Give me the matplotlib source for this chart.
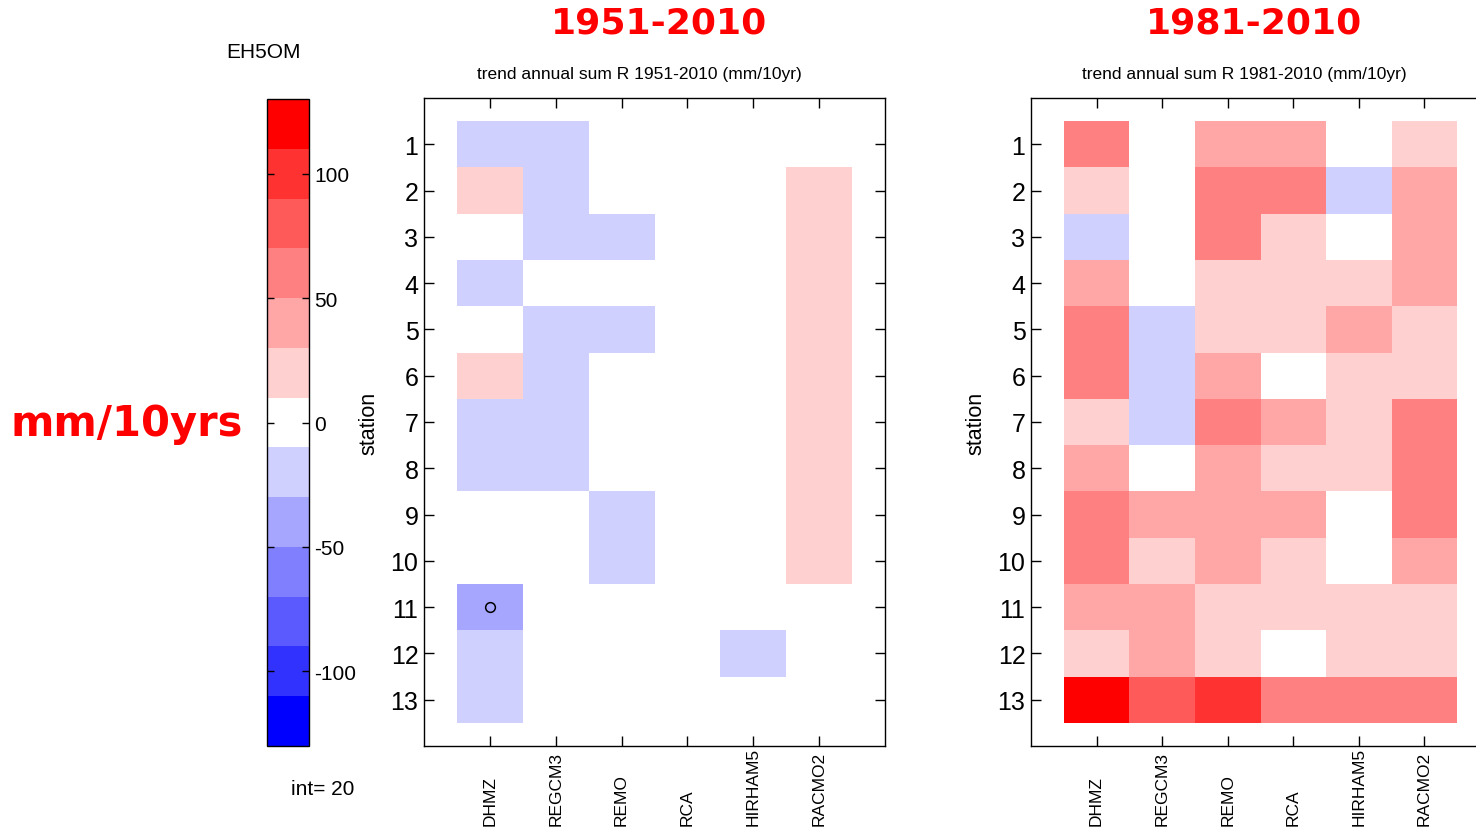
import numpy as np
import matplotlib
matplotlib.use('Agg')
import matplotlib.pyplot as plt
from matplotlib.colors import ListedColormap, BoundaryNorm

plt.rcParams['font.family'] = ['Liberation Sans', 'DejaVu Sans']

models = ['DHMZ', 'REGCM3', 'REMO', 'RCA', 'HIRHAM5', 'RACMO2']
stations = list(range(1, 14))

# trend of annual precipitation sum per station (rows) and model (columns), mm/10yr
trend_1951 = [
    [-20, -20, 0, 0, 0, 0],
    [20, -20, 0, 0, 0, 20],
    [0, -20, -20, 0, 0, 20],
    [-20, 0, 0, 0, 0, 20],
    [0, -20, -20, 0, 0, 20],
    [20, -20, 0, 0, 0, 20],
    [-20, -20, 0, 0, 0, 20],
    [-20, -20, 0, 0, 0, 20],
    [0, 0, -20, 0, 0, 20],
    [0, 0, -20, 0, 0, 20],
    [-40, 0, 0, 0, 0, 0],
    [-20, 0, 0, 0, -20, 0],
    [-20, 0, 0, 0, 0, 0],
]
trend_1981 = [
    [60, 0, 40, 40, 0, 20],
    [20, 0, 60, 60, -20, 40],
    [-20, 0, 60, 20, 0, 40],
    [40, 0, 20, 20, 20, 40],
    [60, -20, 20, 20, 40, 20],
    [60, -20, 40, 0, 20, 20],
    [20, -20, 60, 40, 20, 60],
    [40, 0, 40, 20, 20, 60],
    [60, 40, 40, 40, 0, 60],
    [60, 20, 40, 20, 0, 40],
    [40, 40, 20, 20, 20, 20],
    [20, 40, 20, 0, 20, 20],
    [120, 80, 100, 60, 60, 60],
]
# significant trends (model index, station)
signif_1951 = [(1, 11)]
signif_1981 = []

levels = np.arange(-130, 131, 20)
shades = [0, 50, 90, 128, 166, 208, 255]
blues = [(s / 255, s / 255, 1.0) for s in shades[:-1]]
reds = [(1.0, s / 255, s / 255) for s in shades[::-1][1:]]
cmap = ListedColormap(blues + [(1, 1, 1)] + reds)
norm = BoundaryNorm(levels, cmap.N)

fig = plt.figure(figsize=(14.76, 8.29), dpi=100)

W, H = 1476.0, 829.0
def box(x0, y0, x1, y1):
    return [x0 / W, 1 - y1 / H, (x1 - x0) / W, (y1 - y0) / H]


def panel(rect, data, signif, subtitle, sub_x, period, period_x):
    ax = fig.add_axes(rect)
    xe = np.arange(0.5, len(models) + 1)
    ye = np.arange(0.5, len(stations) + 1)
    ax.pcolormesh(xe, ye, np.array(data), cmap=cmap, norm=norm, edgecolors='none')
    for m, s in signif:
        ax.plot(m, s, 'o', mfc='none', mec='black', ms=7, mew=1.1)
    ax.set_xlim(0, 7)
    ax.set_ylim(14, 0)
    ax.set_yticks(stations)
    ax.set_yticklabels([str(s) for s in stations], fontsize=18)
    ax.set_xticks(range(1, len(models) + 1))
    ax.set_xticklabels([])
    ax.tick_params(direction='in', top=True, right=True, length=7, width=1, pad=4)
    for sp in ax.spines.values():
        sp.set_linewidth(1)
    xt = ax.get_xaxis_transform()
    for i, name in enumerate(models):
        ax.text(i + 1, -0.122, name, transform=xt, rotation=90,
                ha='center', va='bottom', fontsize=12.5)
    ax.set_ylabel('station', fontsize=15.5)
    ax.yaxis.set_label_coords(-0.097, 0.5)
    fig.text(sub_x / W, 1 - 75 / H, subtitle, ha='center', va='center', fontsize=12.5)
    fig.text(period_x / W, 1 - 24 / H, period, ha='center', va='center',
             fontsize=26, fontweight='bold', color='#ff0000', family='DejaVu Sans')
    return ax


panel(box(424, 99, 885, 747), trend_1951, signif_1951,
      'trend annual sum R 1951-2010 (mm/10yr)', 639, '1951-2010', 659)
panel(box(1031, 99, 1490, 747), trend_1981, signif_1981,
      'trend annual sum R 1981-2010 (mm/10yr)', 1244, '1981-2010', 1254)

# colour scale
cax = fig.add_axes(box(267, 100, 309, 747))
cb = fig.colorbar(plt.cm.ScalarMappable(norm=norm, cmap=cmap), cax=cax,
                  boundaries=levels, ticks=[-100, -50, 0, 50, 100])
cb.outline.set_linewidth(1)
cax.minorticks_off()
cax.yaxis.set_ticks_position('both')
cax.tick_params(direction='in', left=True, right=True, labelleft=False,
                labelright=True, length=5, width=1, labelsize=15, pad=4)
cax.set_yticklabels(['-100', '-50', '0', '50', '100'])

fig.text(264 / W, 1 - 53 / H, 'EH5OM', ha='center', va='center', fontsize=15)
fig.text(323 / W, 1 - 790 / H, 'int= 20', ha='center', va='center', fontsize=15)
fig.text(127 / W, 1 - 424 / H, 'mm/10yrs', ha='center', va='center',
         fontsize=30, fontweight='bold', color='#ff0000', family='DejaVu Sans')

fig.savefig('out.png', dpi=100)
